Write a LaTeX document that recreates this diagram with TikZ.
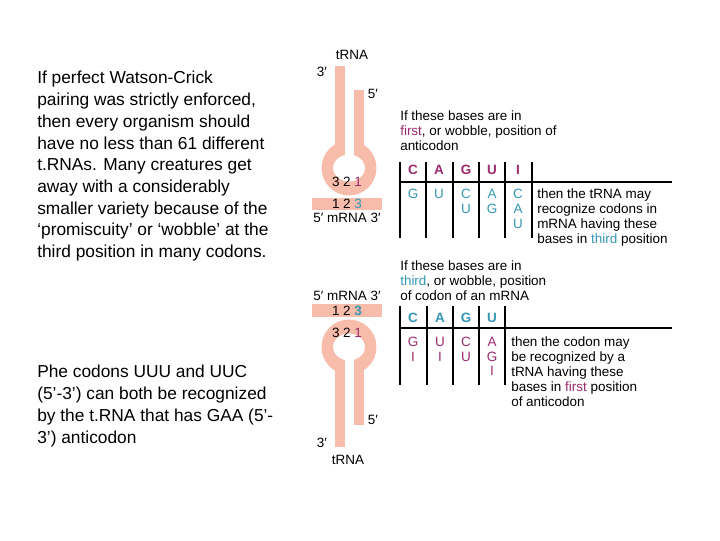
\documentclass[tikz,border=0pt]{standalone}
\usepackage{fontspec}
\setmainfont{Liberation Sans}
\definecolor{pk}{HTML}{F8BCAA}
\definecolor{mg}{HTML}{9A2A6C}
\definecolor{cy}{HTML}{3596B4}
\begin{document}
\begin{tikzpicture}[x=0.75pt,y=-0.75pt,
  big/.style={font=\fontsize{13}{16.3}\selectfont,align=left,anchor=north west,inner sep=0},
  sm/.style={font=\fontsize{10.1}{11.3}\selectfont,inner sep=0},
  smt/.style={sm,align=left,anchor=north west},
  hd/.style={sm,font=\fontsize{10.1}{11.3}\selectfont\bfseries},
  tl/.style={line width=1.2pt}]
\useasboundingbox (0,0) rectangle (720,540);
% left texts
\node[big] (t1) at (37,71) {If perfect Watson-Crick\\pairing was strictly enforced,\\then every organism should\\have no less than 61 different\\t.RNAs. Many creatures get\\away with a considerably\\smaller variety because of the\\‘promiscuity’ or ‘wobble’ at the\\third position in many codons.};
\node[big] (t2) at (37,365) {Phe codons UUU and UUC\\(5’-3’) can both be recognized\\by the t.RNA that has GAA (5’-\\3’) anticodon};
% top tRNA
\fill[pk,even odd rule] (349,168) ellipse (27.5 and 27.5) (349,168) ellipse (16 and 13.5);
\fill[pk] (335,66) rectangle (345,150);
\fill[pk] (354,90) rectangle (364,150);
\fill[white] (345,125) rectangle (354,160);
\fill[pk] (312,198) rectangle (382,210);
\node[sm] (a1) at (352,55) {tRNA};
\node[sm] (a2) at (322,72) {3′};
\node[sm] (a3) at (373,94) {5′};
\node[sm] (a4) at (347,182) {3 2 \textcolor{mg}{1}};
\node[sm] (a5) at (347,204) {1 2 \textcolor{cy}{3}};
\node[sm] (a6) at (347,218) {5′ mRNA 3′};
\node[smt] (a7) at (400,110) {If these bases are in\\\textcolor{mg}{first}, or wobble, position of\\anticodon};
\foreach \x in {400,426,453,479,505,532} \draw[tl] (\x,162) -- (\x,238);
\draw[tl] (400,182) -- (672,182);
\foreach \x/\l in {413/C,439/A,466/G,492/U,518/I} \node[hd,text=mg] at (\x,170) {\l};
\begin{scope}[every node/.style={sm,text=cy}]
\node at (413,194) {G}; \node at (439,194) {U};
\node at (466,194) {C}; \node at (466,209) {U};
\node at (492,194) {A}; \node at (492,209) {G};
\node at (518,194) {C}; \node at (518,209) {A}; \node at (518,224) {U};
\end{scope}
\node[smt] (a8) at (537,188) {then the tRNA may\\recognize codons in\\mRNA having these\\bases in \textcolor{cy}{third} position};
% bottom tRNA
\fill[pk] (312,304) rectangle (382,317);
\fill[pk,even odd rule] (349,347) ellipse (27.5 and 27.5) (349,347) ellipse (16 and 13.5);
\fill[pk] (335,365) rectangle (345,447);
\fill[pk] (354,365) rectangle (364,425);
\fill[white] (345,355) rectangle (354,390);
\node[sm] (b1) at (347,296) {5′ mRNA 3′};
\node[sm] (b2) at (347,311) {1 2 \textcolor{cy}{\bfseries 3}};
\node[sm] (b3) at (347,333) {3 2 \textcolor{mg}{1}};
\node[sm] (b4) at (322,443) {3′};
\node[sm] (b5) at (373,420) {5′};
\node[sm] (b6) at (348,460) {tRNA};
\node[smt] (b7) at (400,260) {If these bases are in\\\textcolor{cy}{third}, or wobble, position\\of codon of an mRNA};
\foreach \x in {400,427,453,479,505} \draw[tl] (\x,306) -- (\x,385);
\draw[tl] (400,328) -- (672,328);
\foreach \x/\l in {413/C,440/A,466/G,492/U} \node[hd,text=cy] at (\x,318) {\l};
\begin{scope}[every node/.style={sm,text=mg}]
\node at (413,342) {G}; \node at (413,357) {I};
\node at (440,342) {U}; \node at (440,357) {I};
\node at (466,342) {C}; \node at (466,357) {U};
\node at (492,342) {A}; \node at (492,357) {G}; \node at (492,371) {I};
\end{scope}
\node[smt] (b8) at (511,336) {then the codon may\\be recognized by a\\tRNA having these\\bases in \textcolor{mg}{first} position\\of anticodon};
\end{tikzpicture}
\end{document}
